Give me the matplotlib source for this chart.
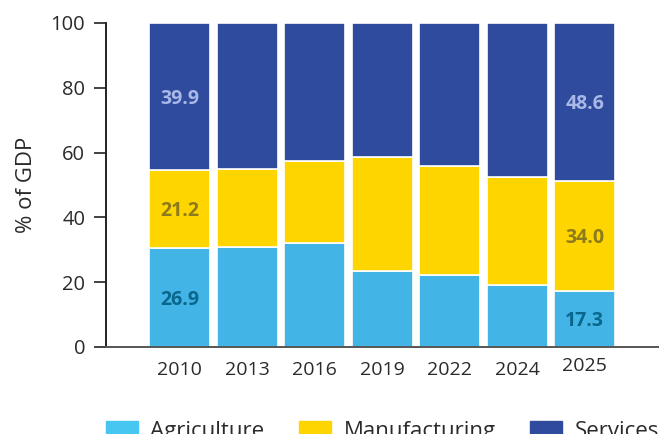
import matplotlib
matplotlib.use("Agg")
import matplotlib.pyplot as plt
import matplotlib.transforms as mtransforms
import numpy as np

plt.rcParams["font.family"] = ["Open Sans", "DejaVu Sans"]

years = ["2010", "2013", "2016", "2019", "2022", "2024", "2025"]
agriculture = [26.9, 31.0, 32.0, 23.6, 22.2, 19.1, 17.3]
manufacturing = [21.2, 23.9, 25.3, 34.9, 33.8, 33.5, 34.0]
services = [39.9, 45.1, 42.7, 41.5, 44.0, 47.4, 48.6]
series_names = ["Agriculture", "Manufacturing", "Services"]
labelled_years = ["2010", "2025"]

colors = ["#42B4E6", "#FFD500", "#2E4B9E"]
legend_colors = ["#48C6F2", "#FFD500", "#2E4B9E"]
label_colors = ["#0A678C", "#8C7A1E", "#A9B8E6"]
text_color = "#2a2a2a"

raw = np.array([agriculture, manufacturing, services], dtype=float)
shares = raw / raw.sum(axis=0) * 100.0

fig = plt.figure(figsize=(6.59, 4.34), dpi=100)
ax = fig.add_axes([106 / 659, 87 / 434, 1 - 106 / 659, 324 / 434])

x = np.arange(len(years))
bottom = np.zeros(len(years))
handles = []
for i, name in enumerate(series_names):
    ax.bar(x, shares[i], width=0.9, bottom=bottom, color=colors[i],
           edgecolor="white", linewidth=1.2)
    handles.append(plt.Rectangle((0, 0), 1, 1, color=legend_colors[i], label=name))
    for j, yr in enumerate(years):
        if yr in labelled_years:
            ax.text(x[j], bottom[j] + shares[i][j] / 2, f"{raw[i][j]:.1f}",
                    ha="center", va="center_baseline", fontsize=14,
                    fontweight="bold", color=label_colors[i])
    bottom += shares[i]

ax.set_ylim(0, 100)
ax.set_xlim(-1.09, 7.1)
ax.set_yticks([0, 20, 40, 60, 80, 100])
ax.set_xticks(x)
ax.set_xticklabels(years)
ax.tick_params(axis="y", length=9, width=1.2, color="#222222", pad=6,
               labelsize=14.5, labelcolor=text_color)
ax.tick_params(axis="x", length=0, pad=10, labelsize=14, labelcolor=text_color)

# the last year's label sits a little higher than the rest
last = ax.get_xticklabels()[-1]
last.set_transform(last.get_transform() +
                   mtransforms.ScaledTranslation(0, 2.5 / 72, fig.dpi_scale_trans))

for side in ["top", "right"]:
    ax.spines[side].set_visible(False)
ax.spines["left"].set_color("#222222")
ax.spines["left"].set_linewidth(1.4)
ax.spines["bottom"].set_color("#555555")
ax.spines["bottom"].set_linewidth(1.4)

ax.set_ylabel("% of GDP", fontsize=16, color=text_color, labelpad=10)

fig.legend(handles=handles, loc="upper left",
           bbox_to_anchor=(106 / 659, 1 - 421 / 434),
           ncol=3, frameon=False, fontsize=16, handlelength=1.45,
           handleheight=0.8, handletextpad=0.55, columnspacing=1.55,
           borderaxespad=0, borderpad=0, labelcolor=text_color)

fig.savefig("out.png", dpi=100)
